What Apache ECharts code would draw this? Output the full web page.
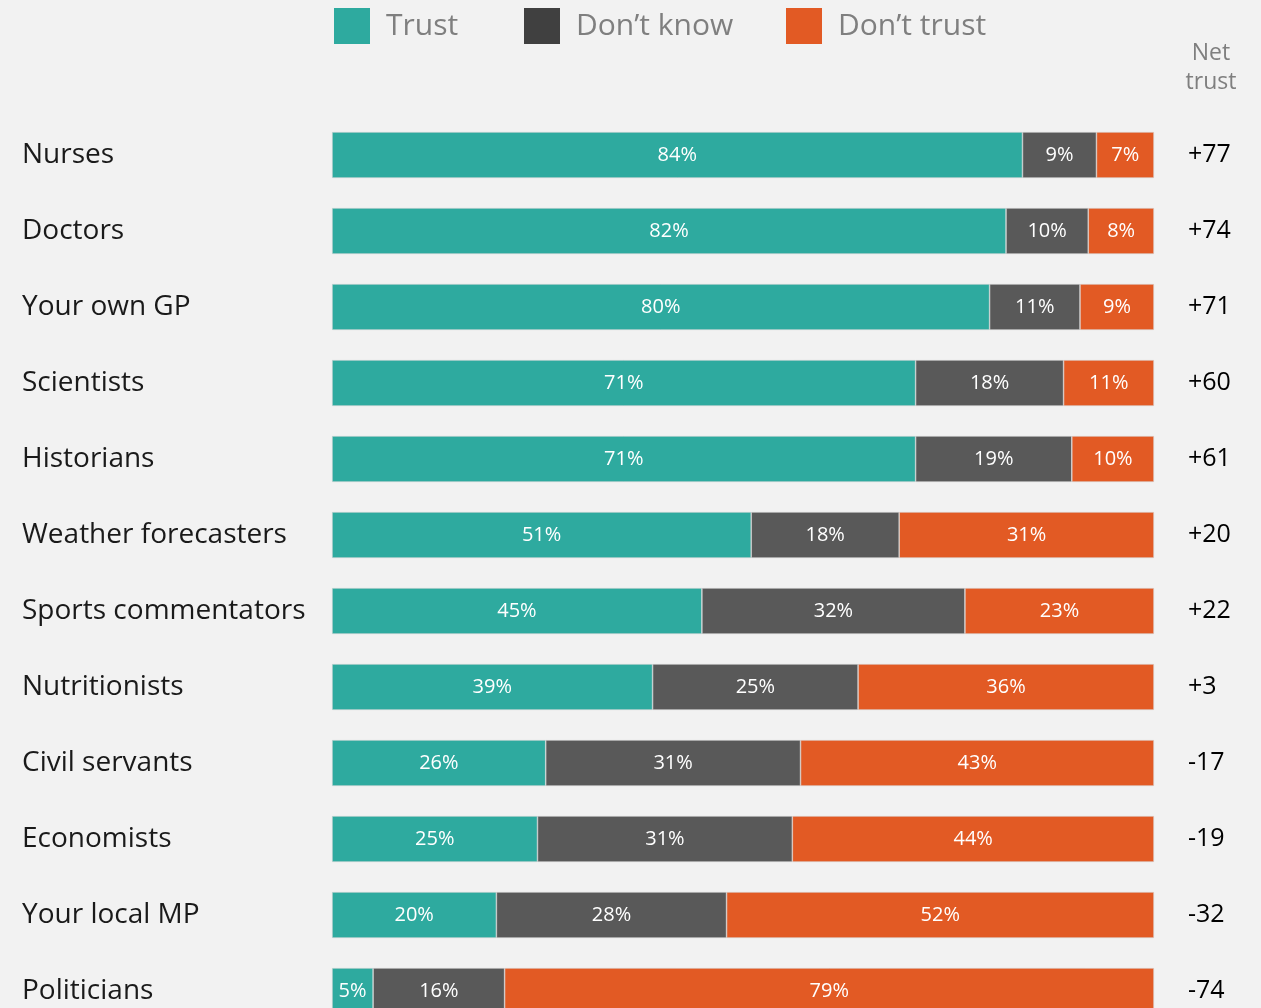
<!DOCTYPE html>
<html>
<head>
<meta charset="utf-8">
<script src="https://cdn.jsdelivr.net/npm/echarts@6/dist/echarts.min.js"></script>
<style>
  html, body { margin: 0; padding: 0; background: #f2f2f2; }
  #chart { width: 1261px; height: 1008px; }
</style>
</head>
<body>
<div id="chart"></div>
<script>
// Professions, in display order from top to bottom
const categories = [
  'Nurses', 'Doctors', 'Your own GP', 'Scientists', 'Historians',
  'Weather forecasters', 'Sports commentators', 'Nutritionists',
  'Civil servants', 'Economists', 'Your local MP', 'Politicians'
];
// Share of respondents (%)
const trust     = [84, 82, 80, 71, 71, 51, 45, 39, 26, 25, 20, 5];
const dontKnow  = [9, 10, 11, 18, 19, 18, 32, 25, 31, 31, 28, 16];
const dontTrust = [7, 8, 9, 11, 10, 31, 23, 36, 43, 44, 52, 79];
// Net trust (trust minus don't trust), as printed
const netTrust  = ['+77', '+74', '+71', '+60', '+61', '+20', '+22', '+3', '-17', '-19', '-32', '-74'];

const COLORS = { trust: '#2eaa9f', dontKnow: '#595959', dontTrust: '#e25a24' };
const LEGEND_DARK = '#404040';

const labelFont = 'Open Sans, Liberation Sans, sans-serif';

function seg(name, data, color) {
  return {
    name: name,
    type: 'bar',
    stack: 'all',
    barWidth: 46,
    data: data,
    itemStyle: { color: color, borderColor: '#d9d9d9', borderWidth: 0.6 },
    label: {
      show: true,
      position: 'inside',
      formatter: '{c}%',
      color: '#ffffff',
      fontFamily: labelFont,
      fontSize: 20
    },
    emphasis: { disabled: true }
  };
}

function legendAt(left, name, color) {
  return {
    left: left,
    top: 8,
    padding: 0,
    itemWidth: 36,
    itemHeight: 36,
    itemGap: 0,
    icon: 'rect',
    selectedMode: false,
    data: [{ name: name, itemStyle: { color: color, borderWidth: 0 } }],
    textStyle: {
      color: '#7f7f7f',
      fontFamily: labelFont,
      fontSize: 30,
      padding: [0, 0, 0, 11]
    }
  };
}

const chart = echarts.init(document.getElementById('chart'), null, { renderer: 'canvas' });

chart.setOption({
  backgroundColor: '#f2f2f2',
  animation: false,
  legend: [
    legendAt(334, 'Trust', COLORS.trust),
    legendAt(524, 'Don\u2019t know', LEGEND_DARK),
    legendAt(786, 'Don\u2019t trust', COLORS.dontTrust)
  ],
  graphic: [{
    type: 'text',
    x: 1211,
    y: 39,
    style: {
      text: 'Net\ntrust',
      fill: '#7f7f7f',
      font: '23px ' + labelFont,
      align: 'center',
      lineHeight: 29
    }
  }],
  // The last row runs past the bottom edge of the canvas
  grid: {
    left: 332, right: 107, top: 117, height: 912,
    containLabel: false,
    outerBoundsMode: 'none'
  },
  xAxis: {
    type: 'value',
    min: 0,
    max: 100,
    show: false
  },
  yAxis: [{
    type: 'category',
    data: categories,
    inverse: true,
    axisLine: { show: false },
    axisTick: { show: false },
    axisLabel: {
      align: 'left',
      margin: 310,
      color: '#1a1a1a',
      fontFamily: labelFont,
      fontSize: 28
    }
  }, {
    type: 'category',
    data: netTrust,
    inverse: true,
    position: 'right',
    axisLine: { show: false },
    axisTick: { show: false },
    axisLabel: {
      align: 'left',
      margin: 34,
      color: '#000000',
      fontFamily: labelFont,
      fontSize: 25,
      padding: [0, 0, 6, 0]
    }
  }],
  series: [
    seg('Trust', trust, COLORS.trust),
    seg('Don\u2019t know', dontKnow, COLORS.dontKnow),
    seg('Don\u2019t trust', dontTrust, COLORS.dontTrust)
  ]
});
</script>
</body>
</html>
